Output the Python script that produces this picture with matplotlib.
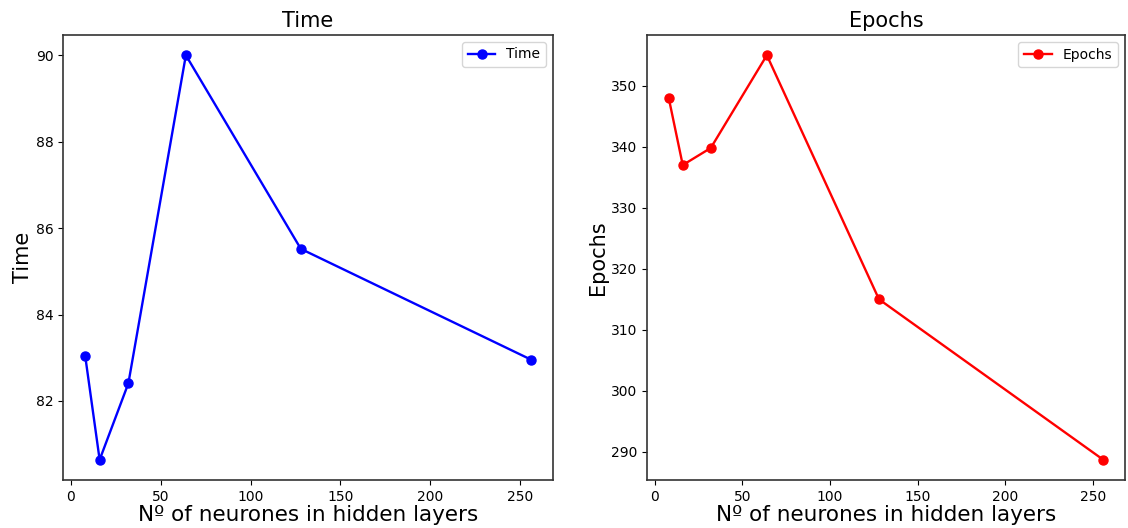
import numpy as np, matplotlib
matplotlib.use('Agg')
import matplotlib.pyplot as plt

# hidden layer sizes tried and the resulting training time / epochs
neurons = [8, 16, 32, 64, 128, 256]
time_vals = [83.03, 80.64, 82.41, 90.0, 85.52, 82.96]
epoch_vals = [348, 337, 339.8, 355, 315, 288.7]

fig = plt.figure(figsize=(11.28, 5.28), dpi=100)
ax1 = fig.add_axes([63/1128, 1-480/528, 490/1128, 445/528])
ax2 = fig.add_axes([647/1128, 1-480/528, 478/1128, 445/528])

def panel(ax, y, color, name):
    ax.plot(neurons, y, 'o-', color=color, lw=1.7, ms=6.5, label=name)
    ax.set_title(name, fontsize=15)
    ax.set_ylabel(name, fontsize=15, labelpad=2)
    ax.set_xlabel('Nº of neurones in hidden layers', fontsize=15.5, labelpad=1)
    ax.legend(loc='upper right', fontsize=10)
    ax.tick_params(labelsize=10)
    for s in ax.spines.values():
        s.set_color('#333333'); s.set_linewidth(1.2)

panel(ax1, time_vals, 'blue', 'Time')
ax1.set_yticks([82, 84, 86, 88, 90])
panel(ax2, epoch_vals, 'red', 'Epochs')

fig.savefig('out.png', dpi=100)
